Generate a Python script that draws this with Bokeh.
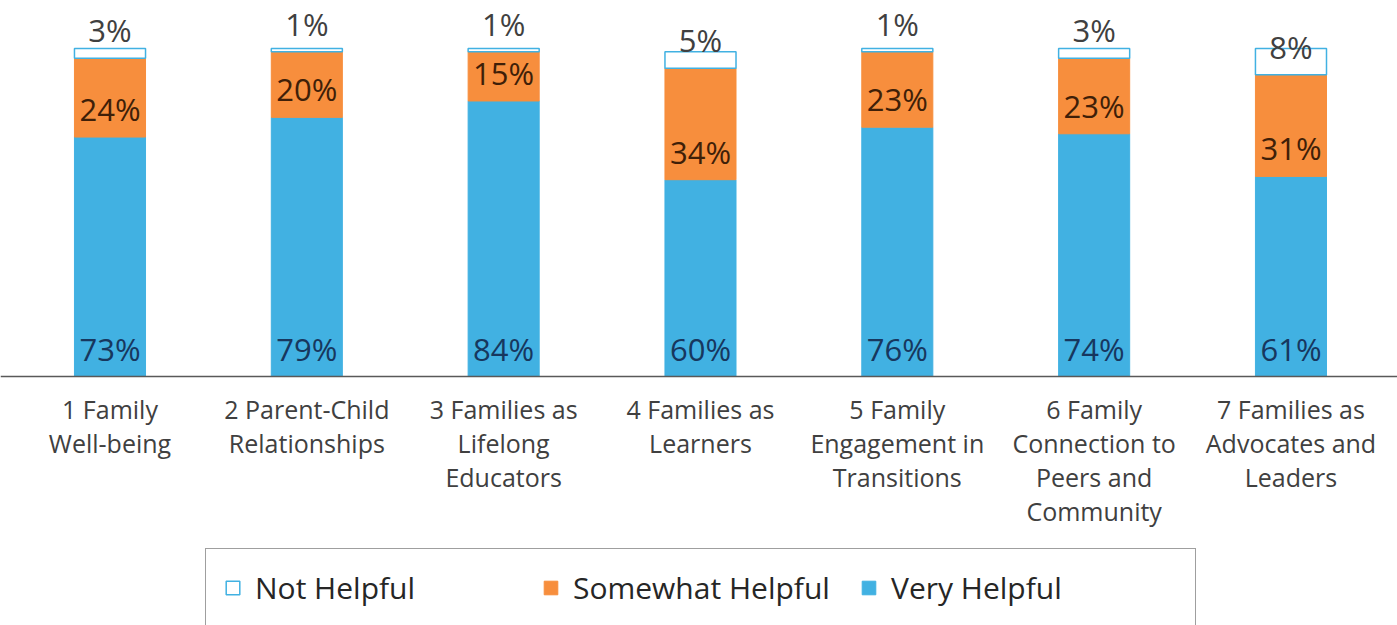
from bokeh.plotting import figure
from bokeh.models import ColumnDataSource, Range1d, Span, Legend, LegendItem
from bokeh.core.properties import value
from bokeh.embed import file_html
from bokeh.resources import INLINE

categories = [
    "1 Family\nWell-being",
    "2 Parent-Child\nRelationships",
    "3 Families as\nLifelong\nEducators",
    "4 Families as\nLearners",
    "5 Family\nEngagement in\nTransitions",
    "6 Family\nConnection to\nPeers and\nCommunity",
    "7 Families as\nAdvocates and\nLeaders",
]
very_helpful = [73, 79, 84, 60, 76, 74, 61]
somewhat_helpful = [24, 20, 15, 34, 23, 23, 31]
not_helpful = [3, 1, 1, 5, 1, 3, 8]

BLUE = "#41B1E2"
ORANGE = "#F78E3D"
FONT = "Open Sans"

x = list(range(len(categories)))
v0 = [0] * len(x)
v1 = very_helpful
s1 = [a + b for a, b in zip(very_helpful, somewhat_helpful)]
n1 = [a + b for a, b in zip(s1, not_helpful)]

src = ColumnDataSource(dict(
    x=x, cat=categories, v0=v0, v1=v1, s1=s1, n1=n1,
    vlab=[f"{v}%" for v in very_helpful],
    slab=[f"{v}%" for v in somewhat_helpful],
    nlab=[f"{v}%" for v in not_helpful],
))

p = figure(width=1397, height=625, output_backend="svg", toolbar_location=None,
           x_range=Range1d(-0.5563, 6.5412), y_range=Range1d(-75.91, 114.63),
           min_border=0)
p.axis.visible = False
p.grid.visible = False
p.outline_line_color = None
p.background_fill_color = "white"

W = 0.361
r_very = p.vbar(x="x", bottom="v0", top="v1", width=W, source=src,
                fill_color=BLUE, line_color=BLUE)
r_some = p.vbar(x="x", bottom="v1", top="s1", width=W, source=src,
                fill_color=ORANGE, line_color=ORANGE)
r_not = p.vbar(x="x", bottom="s1", top="n1", width=W, source=src,
               fill_color="white", line_color=BLUE, line_width=1.5)

# value labels, "inside base"
LBL = dict(source=src, text_align="center", text_baseline="middle",
           y_offset=-28, text_font=value(FONT), text_font_size="31px")
p.text(x="x", y="v0", text="vlab", text_color="#17375E", **LBL)
p.text(x="x", y="v1", text="slab", text_color="#3F1F08", **LBL)
p.text(x="x", y="s1", text="nlab", text_color="#404040", **LBL)

# category labels
p.text(x="x", y="v0", text="cat", source=src, text_align="center",
       text_baseline="top", y_offset=15, text_font=value(FONT),
       text_font_size="25px", text_color="#404040", text_line_height=1.0)

p.add_layout(Span(location=0, dimension="width", line_color="#595959", line_width=1.5))

legend = Legend(items=[
    LegendItem(label="Not Helpful", renderers=[r_not]),
    LegendItem(label="Somewhat Helpful", renderers=[r_some]),
    LegendItem(label="Very Helpful", renderers=[r_very]),
], location=(205, -2), orientation="horizontal")
legend.label_text_font = FONT
legend.label_text_font_size = "30px"
legend.label_text_color = "#262626"
legend.glyph_width = 17
legend.glyph_height = 17
legend.label_standoff = 14
legend.label_width = 286
legend.spacing = 1
legend.padding = 18
legend.border_line_color = "#404040"
legend.border_line_width = 1.5
legend.background_fill_color = "white"
legend.background_fill_alpha = 1
p.add_layout(legend)

open("out.html", "w").write(file_html(p, INLINE))
